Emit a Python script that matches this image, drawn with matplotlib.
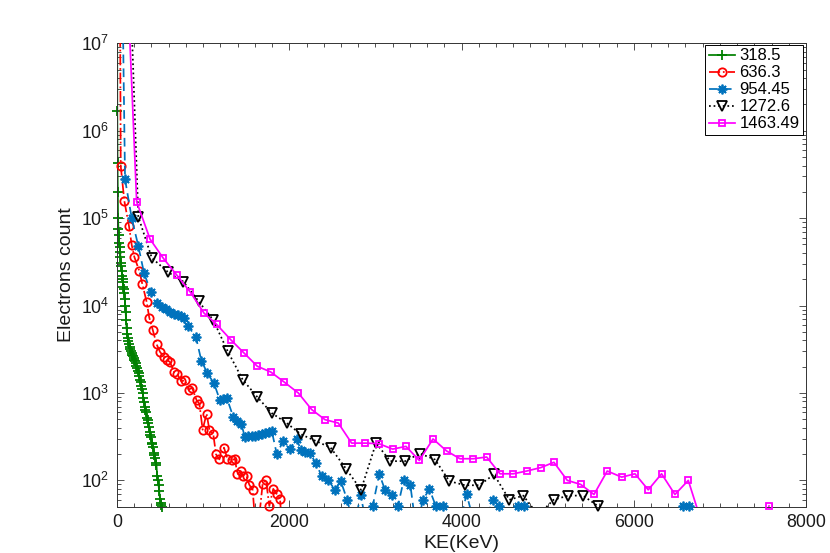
import numpy as np
import matplotlib
matplotlib.use("Agg")
import matplotlib.pyplot as plt
from matplotlib.lines import Line2D
from matplotlib.ticker import MultipleLocator, LogLocator, NullFormatter

plt.rcParams['font.family'] = ['Liberation Sans', 'DejaVu Sans']
plt.rcParams['mathtext.fontset'] = 'custom'
plt.rcParams['mathtext.rm'] = 'Liberation Sans'
plt.rcParams['mathtext.it'] = 'Liberation Sans:italic'
plt.rcParams['mathtext.default'] = 'regular'

# ---------------- data (KE in keV, electron counts) ----------------
labels = ["318.5", "636.3", "954.45", "1272.6", "1463.49"]

ke_3185 = [0, 3, 6, 9, 12, 16, 20, 25, 30, 35, 40, 45, 50, 55, 60, 65, 70, 75, 80, 85,
           90, 95, 100, 105, 110, 116, 123, 130, 138, 146, 154, 162, 170, 178, 186, 194,
           202, 210, 218, 226, 234, 242, 250, 258, 266, 274, 282, 290, 298, 306, 314, 322,
           330, 338, 346, 354, 362, 370, 378, 386, 394, 402, 410, 418, 426, 434, 442, 450,
           458, 466, 474, 482, 490, 498, 506, 514, 524, 534]
cnt_3185 = [1e9, 1.7e6, 4.3e5, 2.0e5, 1.0e5, 7.6e4, 6.4e4, 5.2e4, 4.7e4, 4.1e4, 3.6e4,
            3.1e4, 2.8e4, 2.5e4, 2.2e4, 2.0e4, 1.85e4, 1.65e4, 1.55e4, 1.4e4, 1.2e4, 1.0e4,
            8.4e3, 6.8e3, 5.6e3, 4.7e3, 4.2e3, 3.9e3, 3.6e3, 3.4e3, 3.2e3, 3.05e3, 2.9e3,
            2.75e3, 2.65e3, 2.5e3, 2.4e3, 2.3e3, 2.2e3, 2.05e3, 1.95e3, 1.8e3, 1.7e3, 1.55e3,
            1.42e3, 1.32e3, 1.2e3, 1.1e3, 1.0e3, 880, 790, 700, 640, 610, 520, 490, 450, 410,
            360, 330, 310, 270, 262, 240, 205, 196, 180, 160, 150, 112, 100, 88, 75, 62, 55,
            52, 50, 10]

ke_6363 = [15, 43, 85, 139, 171, 201, 258, 294, 344, 374, 414, 460, 499, 545, 584, 615,
           661, 700, 747, 789, 832, 871, 924, 956, 994, 1040, 1072, 1118, 1149, 1188, 1242,
           1281, 1331, 1369, 1397, 1436, 1466, 1505, 1536, 1575, 1613, 1653, 1691, 1730,
           1768, 1814, 1854, 1892, 1930]
cnt_6363 = [1e12, 3.95e5, 1.57e5, 8.1e4, 4.9e4, 3.6e4, 2.5e4, 1.76e4, 1.1e4, 7.3e3,
            5.3e3, 3.6e3, 2.95e3, 2.59e3, 2.37e3, 2.26e3, 1.74e3, 1.64e3, 1.36e3, 1.40e3,
            1.09e3, 1.15e3, 824, 755, 380, 580, 380, 336, 199, 174, 237, 177, 169, 177, 117,
            128, 111, 111, 89, 78, 25, 40, 92, 100, 51, 80, 70, 62, 20]

ke_95445 = [30, 93, 171, 247, 313, 391, 468, 519, 563, 619, 661, 704, 743, 780, 827, 916,
            979, 1049, 1126, 1194, 1231, 1273, 1350, 1396, 1443, 1485, 1525, 1563, 1602,
            1641, 1683, 1723, 1759, 1796, 1854, 1930, 2004, 2086, 2137, 2188, 2236, 2310,
            2376, 2453, 2531, 2597, 2672, 2752, 2829, 2899, 2969, 3045, 3111, 3188, 3262,
            3328, 3406, 3479, 3549, 3628, 3701, 3782, 3923, 4059, 4206, 4362, 4439, 4549,
            4660, 4725, 5033, 6575, 6644, 6750]
cnt_95445 = [1e10, 2.78e5, 9.95e4, 4.8e4, 2.37e4, 1.44e4, 1.07e4, 9.6e3, 9.1e3, 8.4e3,
             8.0e3, 7.8e3, 7.5e3, 7.3e3, 5.8e3, 4.35e3, 2.35e3, 1.68e3, 1.29e3, 830, 860,
             886, 531, 480, 446, 310, 318, 324, 326, 330, 338, 345, 355, 370, 202, 280, 229,
             297, 221, 211, 205, 158, 111, 100, 78, 99, 60, 30, 68, 30, 51, 119, 78, 68, 51,
             100, 88, 25, 60, 79, 51, 51, 20, 69, 20, 60, 51, 20, 51, 51, 10, 51, 51, 10]

ke_12726 = [75, 247, 404, 595, 770, 947, 1118, 1285, 1459, 1629, 1795, 1970, 2136, 2310,
            2480, 2659, 2833, 3007, 3173, 3344, 3518, 3692, 3859, 4040, 4207, 4377, 4555,
            4717, 4890, 5068, 5240, 5411, 5583, 5760]
cnt_12726 = [8e9, 1.04e5, 3.5e4, 2.4e4, 1.88e4, 1.12e4, 6.8e3, 3.0e3, 1.42e3, 899, 590,
             453, 336, 282, 237, 136, 78, 267, 166, 166, 203, 173, 98, 88, 88, 117, 60, 67,
             40, 60, 67, 67, 51, 15]

ke_146349 = [73, 228, 383, 538, 694, 852, 1010, 1156, 1320, 1474, 1629, 1784, 1938, 2105,
             2260, 2415, 2569, 2724, 2882, 3040, 3201, 3355, 3510, 3669, 3827, 3982, 4137,
             4292, 4447, 4601, 4757, 4919, 5073, 5228, 5383, 5538, 5692, 5860, 6014, 6168,
             6323, 6478, 6633, 6788, 6943, 7097, 7252, 7407, 7570]
cnt_146349 = [6.4e8, 1.54e5, 5.76e4, 3.47e4, 2.23e4, 1.42e4, 8.2e3, 6.1e3, 4.07e3, 2.87e3,
              2.02e3, 1.74e3, 1.34e3, 1.0e3, 646, 495, 453, 267, 267, 263, 228, 245, 169,
              298, 217, 177, 177, 185, 119, 119, 128, 140, 161, 100, 90, 69, 128, 109, 119,
              78, 119, 69, 100, 33, 15, 12, 10, 10, 51]

x_ticks = [0, 2000, 4000, 6000, 8000]
y_ticks = [1e2, 1e3, 1e4, 1e5, 1e6, 1e7]

# ---------------- styles ----------------
styles = [
    dict(color='#008000', ls='-', marker='+', ms=6.5, mew=1.3),
    dict(color='#ff0000', ls='-.', marker='o', ms=6, mew=1.3),
    dict(color='#0072BD', ls=(0, (5, 3)), marker=(8, 2, 0), ms=7, mew=1.3),
    dict(color='#000000', ls=':', marker='v', ms=6.5, mew=1.3),
    dict(color='#ff00ff', ls='-', marker='s', ms=5, mew=1.3),
]
xs = [ke_3185, ke_6363, ke_95445, ke_12726, ke_146349]
ys = [cnt_3185, cnt_6363, cnt_95445, cnt_12726, cnt_146349]

YMIN, YMAX = 50, 1e7

fig = plt.figure(figsize=(8.3, 5.53), dpi=100)
ax = fig.add_axes([0.1410, 0.0837, 0.8301, 0.838])
ax.set_yscale('log')

handles = []
for i, (x, y, st) in enumerate(zip(xs, ys, styles)):
    x = np.asarray(x, float)
    y = np.asarray(y, float)
    ax.plot(x, y, color=st['color'], ls=st['ls'], lw=1.25, zorder=2 + i)
    m = (y >= YMIN) & (y <= YMAX)
    ax.plot(x[m], y[m], ls='none', marker=st['marker'], ms=st['ms'], mew=st['mew'],
            mec=st['color'], mfc='none', clip_on=False, zorder=2 + i)
    handles.append(Line2D([], [], color=st['color'], ls=st['ls'], lw=1.25,
                          marker=st['marker'], ms=st['ms'], mew=st['mew'],
                          mec=st['color'], mfc='none'))

ax.set_xlim(0, 8000)
ax.set_ylim(YMIN, YMAX)
ax.set_xticks(x_ticks)
ax.xaxis.set_minor_locator(MultipleLocator(200))
ax.set_yticks(y_ticks)
ax.yaxis.set_minor_locator(LogLocator(base=10, subs=np.arange(2, 10)))
ax.yaxis.set_minor_formatter(NullFormatter())

axis_col = '#333333'
for s in ax.spines.values():
    s.set_color(axis_col)
    s.set_linewidth(0.7)
ax.tick_params(which='both', direction='in', top=True, right=True, color=axis_col,
               width=0.6, labelsize=12.8, labelcolor='#1a1a1a')
ax.tick_params(which='major', length=5, pad=5.5)
ax.tick_params(which='minor', length=2.8)

ax.set_xlabel('KE(KeV)', fontsize=14, labelpad=2.5, color='#1a1a1a')
ax.set_ylabel('Electrons count', fontsize=14, labelpad=4, color='#1a1a1a')

leg = ax.legend(handles, labels, loc='upper right', bbox_to_anchor=(0.9956, 0.9963),
                borderaxespad=0, fontsize=12, frameon=True, fancybox=False,
                edgecolor='black', framealpha=1, handlelength=1.6, handletextpad=0.25,
                labelspacing=0.12, borderpad=0.2, numpoints=1)
leg.get_frame().set_linewidth(0.7)
leg.set_zorder(20)

fig.savefig('out.png', dpi=100)
